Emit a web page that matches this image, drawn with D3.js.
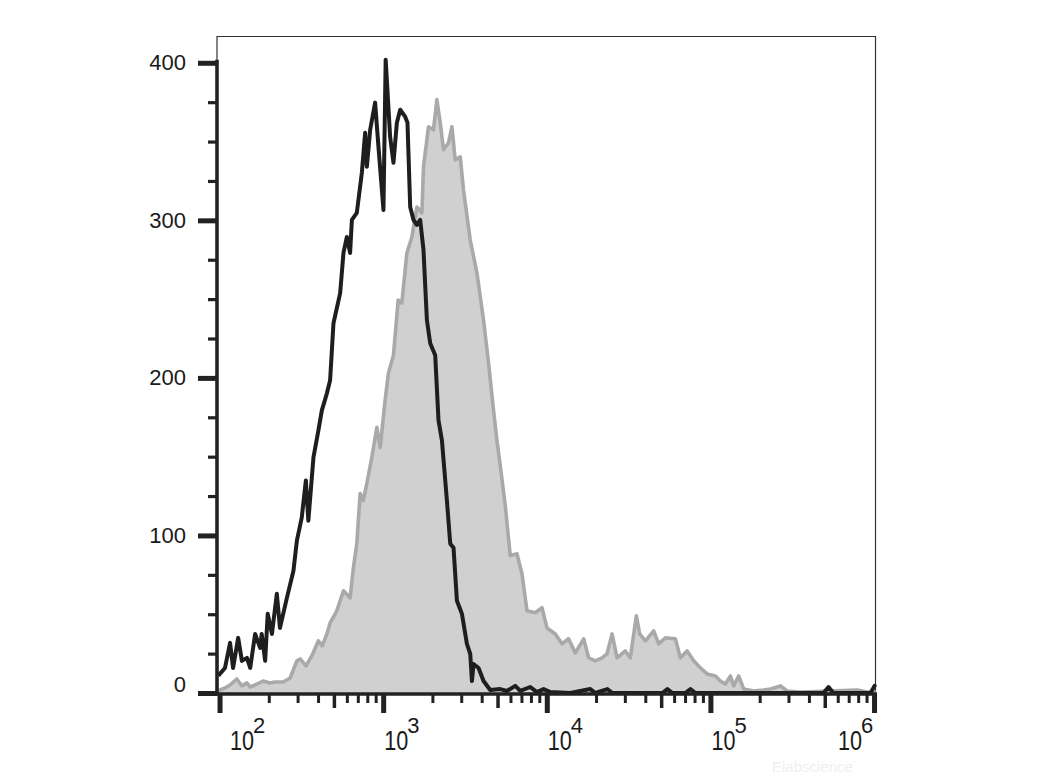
<!DOCTYPE html>
<html><head><meta charset="utf-8">
<script src="https://cdn.jsdelivr.net/npm/d3@7"></script>
<style>
body{margin:0;background:#fff}
svg{display:block}
text{font-family:"Liberation Sans",Arial,sans-serif;fill:#1a1a1a}
</style>
</head><body>
<svg id="chart" width="1040" height="780"></svg>
<script>
// Fluorescence intensity (x) and event counts (y) of the unstained control (black line)
const blackX = [98.3,108,116,121,130,137,147,154,165,177,181,190,197,209,224,234,258,283,297,318,337,349,375,402,422,453,474,497,546,572,600,628,644,690,741,776,795,833,893,936,1004,1036,1103,1156,1213,1271,1363,1408,1463,1532,1607,1684,1764,1851,1939,2080,2179,2286,2453,2570,2692,2824,3029,3250,3405,3488,3568,3828,4107,4512,5196,5710,6417,6885,7929,8711,9559,10500,13900,18450,19800,23440,25150,50860,54580,58560,70330,75460,80950,491000,526900,565300,952000,1007000,1025000];
const blackY = [11,15.9,31.8,15.9,35,20.4,22.3,15.9,37.5,28.6,37.5,20.4,50.3,37.5,63,41.3,60.4,77.6,96.7,111.3,134.9,109.4,149.5,166.7,179.4,190.2,198.5,234.7,253.8,279.3,289.4,279.3,300.3,304.7,330.2,355.6,334,357.5,374.7,346.7,306.6,402,353,336.5,362,370.2,365.8,362,308.5,300.3,297.1,300.3,281.2,236.6,222,214.4,173,160.3,122.1,94.8,92.2,58.5,50.3,31.2,24.8,7.6,18.4,15.9,7.6,1.9,2.5,1.3,4.5,1.3,3.8,0.6,2.5,0.6,0,2.5,0,2.5,0,0,2.5,0,0,2.5,0,0,3.8,0,0,4.5,3.8];

// Stained sample (gray filled histogram)
const grayX = [98.3,100.7,108,116,127.4,137,147,154,165,185,204,218,245,270,297,311,338,366,402,424,453,474,521,572,628,658,690,723,755,795,853,915,959,1028,1077,1156,1235,1301,1396,1498,1607,1725,1764,1893,2030,2130,2232,2338,2508,2631,2757,2958,3098,3405,3743,4107,4406,4727,4958,5196,5574,5814,5981,6573,7052,7567,8507,9346,10030,11270,12390,13590,14940,16800,18020,19800,21760,23340,25060,26880,30200,32410,35270,36950,40040,45010,48290,53060,61080,65540,72030,79060,86860,95450,107300,115100,123500,132600,138800,148900,159800,184000,211000,232800,268100,294500,355200,789500,908700,1025000];
const grayY = [1.3,1.9,3.2,5.1,8.9,4.5,6.4,3.8,5.1,7.6,6.4,7,7,9.5,20.4,21.6,17.2,23.5,33.1,29.9,37.5,44.5,52.2,64.9,60.4,79.5,94.8,126.6,122.1,133,149.5,168.6,155.9,185.8,202.9,214.4,249.4,247.5,279.3,289.4,308.5,304.7,334,359.4,357.5,376.6,362,344.8,349.2,359.4,338.4,340.3,319.3,287.5,266.5,236.6,209.3,179.4,160.3,144.4,119,99.9,87.2,88.4,75.7,52.2,50.9,54.1,41.3,37.5,31.2,34.4,25.4,34.4,22.3,20.4,22.3,24.8,37.5,22.3,26.7,22.3,49,37.5,33.1,39.4,31.2,35,34.4,22.3,26.7,20.4,15.9,12.1,10.8,7.6,5.7,10.8,4.5,10.8,2.5,1.3,1.9,2.5,4.5,1.3,0.6,1.9,0.6,0.6];

// Axis definitions
const yTickValues = [0,100,200,300,400];
const yMinorValues = [25,50,75,125,150,175,225,250,275,325,350,375];
const xTickExponents = [2,3,4,5,6];
const xDomain = [96.5, 1.028e6];
const yDomain = [0, 417];

(function(){
const svg = d3.select("#chart");
const pL = 217, pR = 876, pT = 36, pB = 693;

const x = d3.scaleLog().domain(xDomain).range([pL, pR]);
const y = d3.scaleLinear().domain(yDomain).range([pB, pT]);

const gray = grayX.map((v,i)=>({x:v,y:grayY[i]}));
const black = blackX.map((v,i)=>({x:v,y:blackY[i]}));

// faint watermark
svg.append("text").attr("x",772).attr("y",772).attr("font-size",15)
  .style("fill","#efefef").text("Elabscience");

// frame (thin top & right)
svg.append("line").attr("x1",pL).attr("x2",pR).attr("y1",pT+0.5).attr("y2",pT+0.5)
  .attr("stroke","#333").attr("stroke-width",1.2);
svg.append("line").attr("x1",pR-0.5).attr("x2",pR-0.5).attr("y1",pT).attr("y2",pB)
  .attr("stroke","#333").attr("stroke-width",1.2);
svg.append("line").attr("x1",pL).attr("x2",pL).attr("y1",pT).attr("y2",y(400))
  .attr("stroke","#333").attr("stroke-width",1.2);

// gray histogram
svg.append("path").datum(gray)
  .attr("d", d3.area().x(d=>x(d.x)).y0(y(0)).y1(d=>y(d.y)))
  .attr("fill","#d0d0d0");
svg.append("path").datum(gray)
  .attr("d", d3.line().x(d=>x(d.x)).y(d=>y(d.y)))
  .attr("fill","none").attr("stroke","#a9a9ab").attr("stroke-width",3.6)
  .attr("stroke-linejoin","round");

// black control histogram
svg.append("path").datum(black)
  .attr("d", d3.line().x(d=>x(d.x)).y(d=>y(d.y)))
  .attr("fill","none").attr("stroke","#1e1e1e").attr("stroke-width",4)
  .attr("stroke-linejoin","round");

// Y axis
const yMinor = svg.append("g").attr("transform",`translate(${pL},0)`)
  .call(d3.axisLeft(y).tickValues(yMinorValues).tickSize(9).tickFormat(""));
yMinor.select(".domain").remove();
yMinor.selectAll(".tick line").attr("stroke","#222").attr("stroke-width",3.2);

const yMajor = svg.append("g").attr("transform",`translate(${pL},0)`)
  .call(d3.axisLeft(y).tickValues(yTickValues).tickSize(19).tickPadding(12));
yMajor.select(".domain").remove();
yMajor.selectAll(".tick line").attr("stroke","#222").attr("stroke-width",5);
yMajor.selectAll(".tick text").attr("font-size",22).style("font-family",'"Liberation Sans",Arial,sans-serif')
  .attr("fill","#1a1a1a").attr("y", d => d===0 ? -9 : 0);

svg.append("line").attr("x1",pL).attr("x2",pL).attr("y1",y(400)-3).attr("y2",pB+2)
  .attr("stroke","#222").attr("stroke-width",3.6);

// X axis
const allTicks = x.ticks();
const lead = v => Math.round(v / Math.pow(10, Math.floor(Math.log10(v)+1e-9)));
const xMinorVals = allTicks.filter(v => lead(v)!==1 && lead(v)!==5);
const xMidVals = allTicks.filter(v => lead(v)===5);
const xMajorVals = xTickExponents.map(e => Math.pow(10,e));

function xAxisLayer(vals, size, width){
  const g = svg.append("g").attr("transform",`translate(0,${pB})`)
    .call(d3.axisBottom(x).tickValues(vals).tickSize(size).tickFormat(""));
  g.select(".domain").remove();
  g.selectAll(".tick line").attr("stroke","#222").attr("stroke-width",width);
}
xAxisLayer(xMinorVals, 10, 3);
xAxisLayer(xMidVals, 15, 3.5);
xAxisLayer(xMajorVals, 20, 5);

svg.append("line").attr("x1",pL-1).attr("x2",pR+1).attr("y1",pB+1).attr("y2",pB+1)
  .attr("stroke","#222").attr("stroke-width",3.6);

// X labels: 10^n
xTickExponents.forEach(e=>{
  const tx = x(Math.pow(10,e));
  const lx = Math.min(Math.max(tx+1, 230), pR - 38);
  svg.append("text").attr("transform",`translate(${lx},750) scale(0.8,1)`)
    .attr("font-size",27).text("10");
  svg.append("text").attr("x", lx+23).attr("y",733).attr("font-size",22).text(String(e));
});
})();
</script>
</body></html>
